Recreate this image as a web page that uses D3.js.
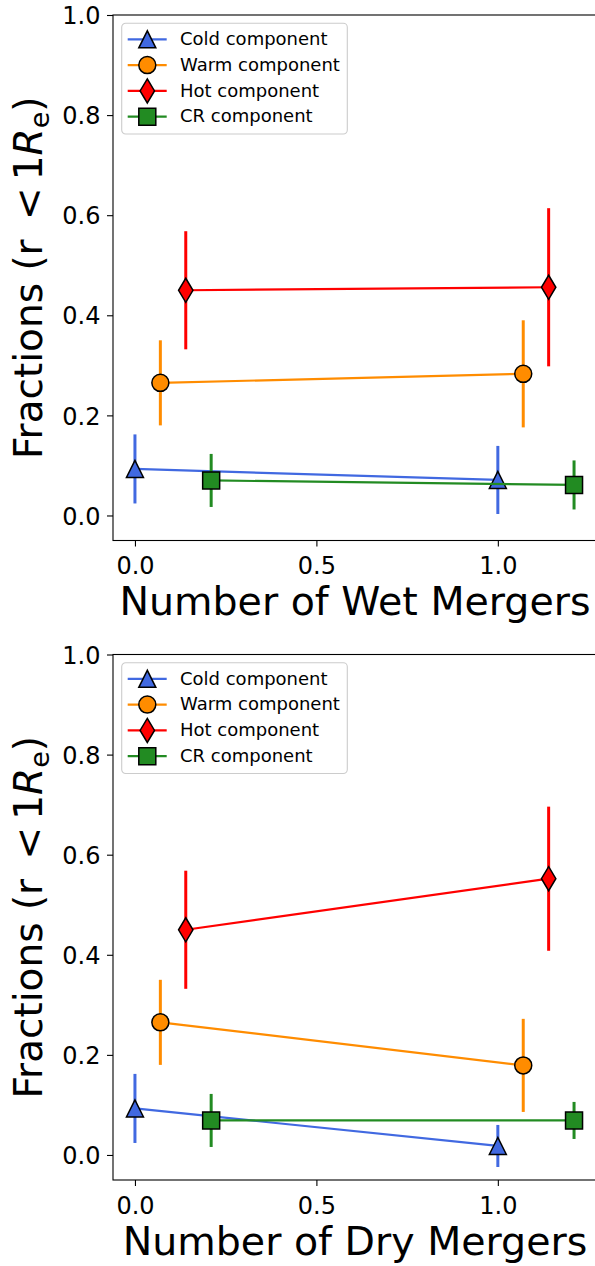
<!DOCTYPE html>
<html>
<head>
<meta charset="utf-8">
<script src="https://cdn.jsdelivr.net/npm/d3@7/dist/d3.min.js"></script>
<style>
  html, body { margin: 0; padding: 0; background: #fff; }
  svg { display: block; }
  text { font-family: "DejaVu Sans", sans-serif; fill: #000; }
</style>
</head>
<body>
<svg id="fig" width="595" height="1266"></svg>
<script>
// Component names, colours and horizontal offsets of each series
const components = ["Cold component", "Warm component", "Hot component", "CR component"];
const colors = ["#4169E1", "#FF8C00", "#FF0000", "#228B22"];
const markers = ["triangle", "circle", "thinDiamond", "square"];
const xOffsets = [0, 0.07, 0.14, 0.21];
const mergerCounts = [0, 1];

// Tick values
const xTicks = [0, 0.5, 1.0];
const yTicks = [0, 0.2, 0.4, 0.6, 0.8, 1.0];

// Wet mergers: fractions and 1-sigma errors
const wetCold = [0.093, 0.071];
const wetColdErr = [0.069, 0.068];
const wetWarm = [0.265, 0.283];
const wetWarmErr = [0.085, 0.107];
const wetHot = [0.450, 0.456];
const wetHotErr = [0.118, 0.158];
const wetCR = [0.070, 0.061];
const wetCRErr = [0.053, 0.049];

// Dry mergers: fractions and 1-sigma errors
const dryCold = [0.093, 0.018];
const dryColdErr = [0.069, 0.042];
const dryWarm = [0.265, 0.179];
const dryWarmErr = [0.085, 0.093];
const dryHot = [0.450, 0.552];
const dryHotErr = [0.118, 0.144];
const dryCR = [0.069, 0.069];
const dryCRErr = [0.053, 0.037];

const panels = [
  { xlabel: "Number of Wet Mergers", top: 15,
    values: [wetCold, wetWarm, wetHot, wetCR],
    errors: [wetColdErr, wetWarmErr, wetHotErr, wetCRErr] },
  { xlabel: "Number of Dry Mergers", top: 654.5,
    values: [dryCold, dryWarm, dryHot, dryCR],
    errors: [dryColdErr, dryWarmErr, dryHotErr, dryCRErr] }
];

const svg = d3.select("#fig");
const axLeft = 113, axRight = 596, axHeight = 525.5;
const ms = 17;

function markerPath(type) {
  const h = ms / 2;
  switch (type) {
    case "triangle": return `M0,${-h}L${-h},${h}L${h},${h}Z`;
    case "circle": return `M${h},0A${h},${h} 0 1,1 ${-h},0A${h},${h} 0 1,1 ${h},0Z`;
    case "thinDiamond": {
      const w = 0.424 * ms, t = 0.707 * ms;
      return `M0,${-t}L${w},0L0,${t}L${-w},0Z`;
    }
    case "square": return `M${-h},${-h}H${h}V${h}H${-h}Z`;
  }
}

panels.forEach(p => {
  const x = d3.scaleLinear().domain([-0.0605, 1.2705]).range([axLeft, axRight]);
  const y = d3.scaleLinear().domain([-0.05, 1.0]).range([p.top + axHeight, p.top]);
  const g = svg.append("g");

  // Data series: error bars, connecting line, markers
  components.forEach((name, i) => {
    const pts = mergerCounts.map((m, k) => ({
      x: m + xOffsets[i], v: p.values[i][k], e: p.errors[i][k]
    }));
    const sg = g.append("g");
    sg.selectAll("line.err").data(pts).join("line")
      .attr("class", "err")
      .attr("x1", d => x(d.x)).attr("x2", d => x(d.x))
      .attr("y1", d => y(d.v - d.e)).attr("y2", d => y(d.v + d.e))
      .attr("stroke", colors[i]).attr("stroke-width", 3);
    sg.append("path")
      .attr("d", d3.line().x(d => x(d.x)).y(d => y(d.v))(pts))
      .attr("fill", "none").attr("stroke", colors[i]).attr("stroke-width", 2.2);
    sg.selectAll("path.mk").data(pts).join("path")
      .attr("class", "mk")
      .attr("d", markerPath(markers[i]))
      .attr("transform", d => `translate(${x(d.x)},${y(d.v)})`)
      .attr("fill", colors[i]).attr("stroke", "#000").attr("stroke-width", 1.5)
      .attr("stroke-linejoin", "miter");
  });

  // Axes
  const yAxis = g.append("g").attr("transform", `translate(${axLeft},0)`)
    .call(d3.axisLeft(y).tickValues(yTicks).tickFormat(d3.format(".1f")).tickSize(6).tickPadding(6));
  yAxis.select(".domain").remove();
  yAxis.selectAll("text").attr("font-size", 24).attr("font-family", "DejaVu Sans")
    .attr("x", -12.5).attr("dy", "0.36em");

  const xAxis = g.append("g").attr("transform", `translate(0,${p.top + axHeight})`)
    .call(d3.axisBottom(x).tickValues(xTicks).tickFormat(d3.format(".1f")).tickSize(6));
  xAxis.select(".domain").remove();
  xAxis.selectAll("text").attr("font-size", 24).attr("font-family", "DejaVu Sans")
    .attr("y", 33.5).attr("dy", null);
  g.selectAll(".tick line").attr("stroke", "#000").attr("stroke-width", 1.1);

  // Frame
  g.append("rect")
    .attr("x", axLeft).attr("y", p.top)
    .attr("width", axRight - axLeft).attr("height", axHeight)
    .attr("fill", "none").attr("stroke", "#000").attr("stroke-width", 1.1);

  // Axis labels
  g.append("text")
    .attr("x", 355).attr("y", p.top + 600)
    .attr("text-anchor", "middle").attr("font-size", 39.5)
    .text(p.xlabel);

  const yl = g.append("text")
    .attr("transform", `translate(42,${p.top + axHeight / 2}) rotate(-90)`)
    .attr("text-anchor", "middle").attr("font-size", 39);
  yl.append("tspan").text("Fractions (r ");
  yl.append("tspan").attr("dx", 7).text("<");
  yl.append("tspan").attr("dx", 7).text("1");
  yl.append("tspan").attr("font-style", "italic").text("R");
  yl.append("tspan").attr("font-size", 27).attr("dy", 7).text("e");
  yl.append("tspan").attr("dy", -7).text(")");

  // Legend
  const lg = g.append("g").attr("transform", `translate(${axLeft + 8.7},${p.top + 8.3})`);
  lg.append("rect")
    .attr("width", 225.6).attr("height", 110.7).attr("rx", 4)
    .attr("fill", "#fff").attr("fill-opacity", 0.8)
    .attr("stroke", "#cccccc").attr("stroke-width", 1.1);
  components.forEach((name, i) => {
    const ry = 16 + i * 25.8;
    const row = lg.append("g").attr("transform", `translate(0,${ry})`);
    row.append("line").attr("x1", 6).attr("x2", 45)
      .attr("stroke", colors[i]).attr("stroke-width", 2.2);
    row.append("path").attr("d", markerPath(markers[i]))
      .attr("transform", "translate(25.6,0)")
      .attr("fill", colors[i]).attr("stroke", "#000").attr("stroke-width", 1.5);
    row.append("text").attr("x", 58.3).attr("dy", "0.32em")
      .attr("font-size", 18).text(name);
  });
});
</script>
</body>
</html>
